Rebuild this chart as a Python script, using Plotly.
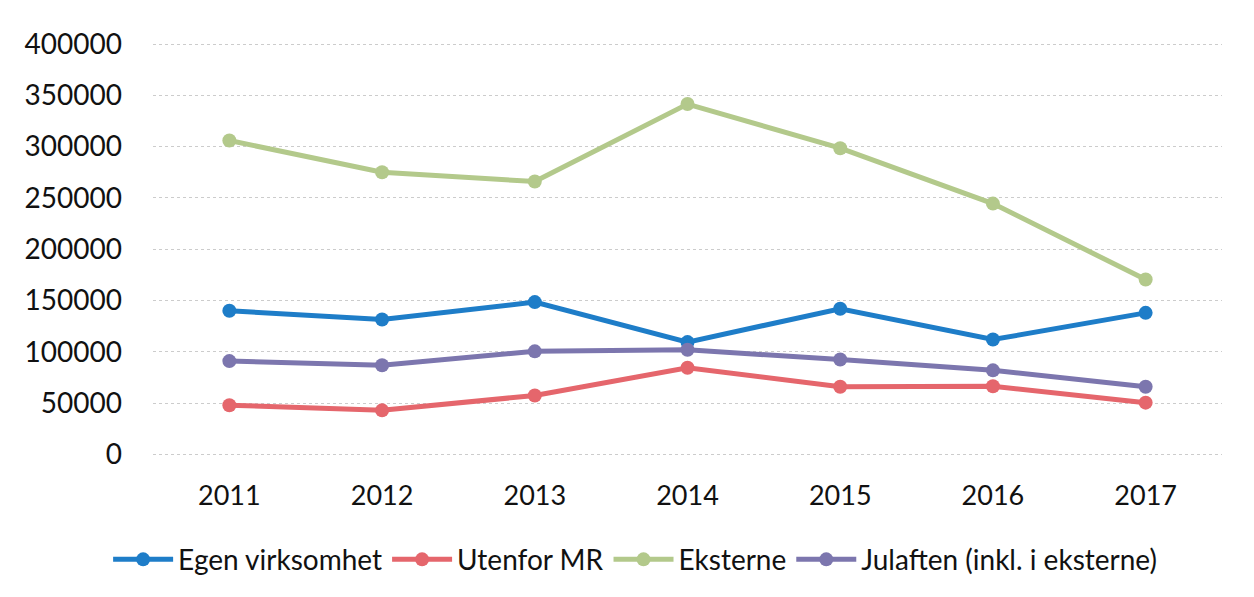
import plotly.graph_objects as go

years = ["2011", "2012", "2013", "2014", "2015", "2016", "2017"]
egen = [140000, 131500, 148500, 109500, 142000, 112000, 138000]
utenfor = [48000, 43000, 57500, 84500, 66000, 66500, 50500]
eksterne = [306000, 275000, 266000, 341500, 298500, 244500, 170500]
julaften = [91000, 87000, 100500, 102000, 92500, 82000, 66000]

names = ["Egen virksomhet", "Utenfor MR", "Eksterne", "Julaften (inkl. i eksterne)"]
colors = ["#1E7DC8", "#E5666C", "#B3C98B", "#7C76AE"]
series = [egen, utenfor, eksterne, julaften]

fig = go.Figure()
for name, vals, c in zip(names, series, colors):
    fig.add_trace(go.Scatter(
        x=years, y=vals, name=name, mode="lines+markers",
        line=dict(color=c, width=5),
        marker=dict(color=c, size=14, symbol="circle"),
    ))

fig.update_layout(
    width=1246, height=589,
    paper_bgcolor="white", plot_bgcolor="white",
    margin=dict(l=145, r=32, t=34, b=141),
    font=dict(family="Lato, Liberation Sans, sans-serif", color="#111111", size=26),
    showlegend=True,
    legend=dict(orientation="h", x=0.451, xanchor="center", y=-0.19, yanchor="top",
                font=dict(size=28), itemwidth=60, tracegroupgap=0),
)
fig.update_xaxes(
    type="category", range=[-0.5, 6.5], showgrid=False, showline=False,
    ticks="", tickfont=dict(size=27), ticklabelstandoff=21, automargin=False,
)
fig.update_yaxes(
    range=[-1500, 402000], tickvals=[0, 50000, 100000, 150000, 200000, 250000, 300000, 350000, 400000],
    ticktext=["0", "50000", "100000", "150000", "200000", "250000", "300000", "350000", "400000"],
    showgrid=True, gridcolor="#cccccc", gridwidth=1, griddash="dot", zeroline=False, showline=False,
    tickfont=dict(size=28), ticklabelstandoff=30, automargin=False,
)

fig.write_html("out.html")
